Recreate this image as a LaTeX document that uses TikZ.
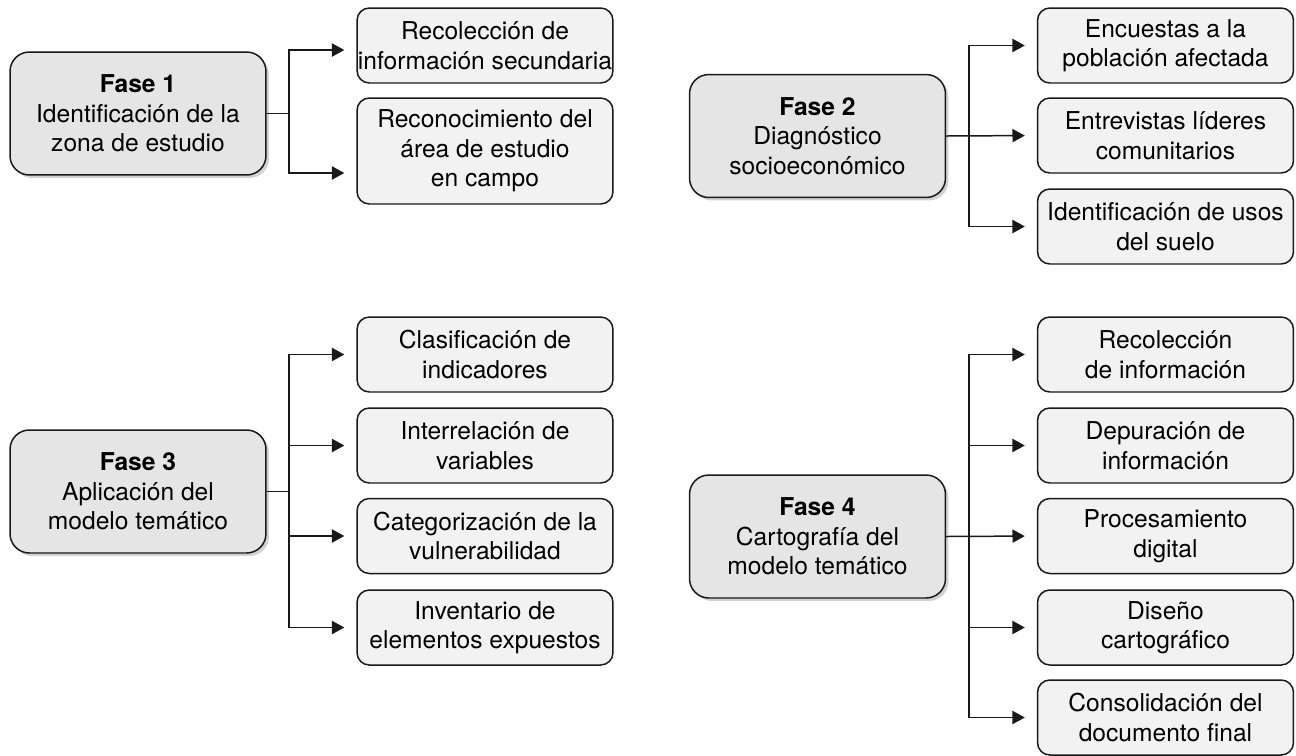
\documentclass[tikz,border=0pt]{standalone}
\usepackage{fontspec}
\setmainfont{TeX Gyre Heros}
\usetikzlibrary{positioning,shadows,arrows.meta}
\tikzset{
  fase/.style={draw=black!90, line width=0.85pt, rounded corners=11pt, fill=black!10,
    minimum width=5.12cm, minimum height=2.46cm, inner sep=0pt, align=center,
    font=\fontsize{14}{16.8}\selectfont,
    drop shadow={shadow xshift=1.7pt, shadow yshift=-1.7pt, fill=black!35}},
  tarea/.style={draw=black!90, line width=0.85pt, rounded corners=7pt, fill=black!5,
    minimum width=5.12cm, minimum height=1.5cm, inner sep=0pt, align=center,
    font=\fontsize{14}{16.8}\selectfont},
  rama/.style={draw=black!90, line width=0.85pt},
  flecha/.style={rama, -{Triangle[length=7pt,width=7.5pt]}, shorten >=0.24cm}
}
\begin{document}
\begin{tikzpicture}[x=0.02cm, y=-0.02cm]
\useasboundingbox (0,0) rectangle (1296,755);

\node[fase] (f1) at (138,113.5) {{\bfseries Fase 1}\\Identificación de la\\zona de estudio};
\node[tarea] (r1a) at (485,45.5) {Recolección de\\información secundaria};
\node[tarea, minimum height=2.12cm] (r1b) at (485,151) {Reconocimiento del\\área de estudio\\en campo};
\coordinate (j1) at (289,113.5);
\draw[rama] (f1.east) -- (j1);
\draw[flecha] (j1) |- ([yshift=-0.09cm]r1a.west);
\draw[flecha] (j1) |- ([yshift=-0.44cm]r1b.west);

\node[fase] (f2) at (817.5,136) {{\bfseries Fase 2}\\Diagnóstico\\socioeconómico};
\node[tarea] (r2a) at (1165.5,45.5) {Encuestas a la\\población afectada};
\node[tarea] (r2b) at (1165.5,135.5) {Entrevistas líderes\\comunitarios};
\node[tarea] (r2c) at (1165.5,226.5) {Identificación de usos\\del suelo};
\coordinate (j2) at (969,136);
\draw[flecha] (f2.east) -- (r2b.west);
\draw[flecha] (j2) |- (r2a.west);
\draw[flecha] (j2) |- (r2c.west);

\node[fase] (f3) at (138,491.5) {{\bfseries Fase 3}\\Aplicación del\\modelo temático};
\node[tarea] (r3a) at (485,354.5) {Clasificación de\\indicadores};
\node[tarea] (r3b) at (485,445.5) {Interrelación de\\variables};
\node[tarea] (r3c) at (485,536) {Categorización de la\\vulnerabilidad};
\node[tarea] (r3d) at (485,627.5) {Inventario de\\elementos expuestos};
\coordinate (j3) at (289,491.5);
\draw[rama] (f3.east) -- (j3);
\foreach \n in {r3a,r3b,r3c,r3d}
  \draw[flecha] (j3) |- (\n.west);

\node[fase] (f4) at (817.5,536.5) {{\bfseries Fase 4}\\Cartografía del\\modelo temático};
\node[tarea] (r4a) at (1165.5,354.5) {Recolección\\de información};
\node[tarea] (r4b) at (1165.5,445.5) {Depuración de\\información};
\node[tarea] (r4c) at (1165.5,536) {Procesamiento\\digital};
\node[tarea] (r4d) at (1165.5,627.5) {Diseño\\cartográfico};
\node[tarea] (r4e) at (1165.5,717.5) {Consolidación del\\documento final};
\coordinate (j4) at (969,536.5);
\draw[flecha] (f4.east) -- (r4c.west);
\foreach \n in {r4a,r4b,r4d,r4e}
  \draw[flecha] (j4) |- (\n.west);
\end{tikzpicture}
\end{document}
